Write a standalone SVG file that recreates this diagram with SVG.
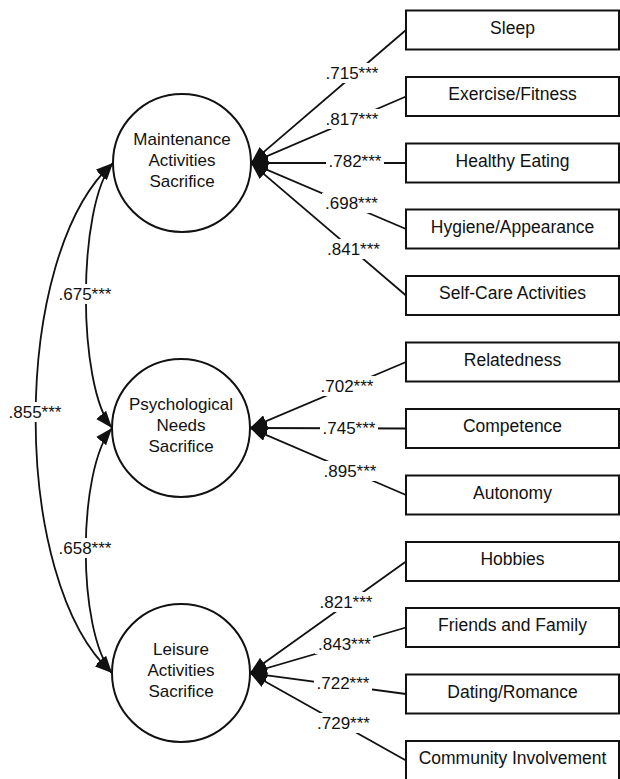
<svg xmlns="http://www.w3.org/2000/svg" width="620" height="779" viewBox="0 0 620 779">
  <style>
    text { font-family: "Liberation Sans", Arial, sans-serif; fill: #111; }
    .latent { fill: #fff; stroke: #111; stroke-width: 2; }
    .obs { fill: #fff; stroke: #111; stroke-width: 2; }
    .ltxt { font-size: 17px; text-anchor: middle; }
    .btxt { font-size: 17.5px; text-anchor: middle; }
    .lbl { font-size: 17px; text-anchor: middle; }
    .path { fill: none; stroke: #111; stroke-width: 1.8; marker-end: url(#arrow); }
    .cov { fill: none; stroke: #111; stroke-width: 1.8; marker-start: url(#arrow); marker-end: url(#arrow); }
    .knock { fill: #fff; stroke: none; }
  </style>
  <defs>
    <marker id="arrow" viewBox="0 0 17 13" refX="17" refY="6.5" markerWidth="17" markerHeight="13" markerUnits="userSpaceOnUse" orient="auto-start-reverse">
      <path d="M0,0 L17,6.5 L0,13 z" fill="#111"/>
    </marker>
  </defs>

  <!-- connectors: loadings and factor covariances -->
  <g id="connectors">
    <!-- Maintenance loadings -->
    <line class="path" x1="406" y1="30" x2="251" y2="163"/>
    <line class="path" x1="406" y1="96.5" x2="251" y2="163"/>
    <line class="path" x1="406" y1="163" x2="251" y2="163"/>
    <line class="path" x1="406" y1="229" x2="251" y2="163"/>
    <line class="path" x1="406" y1="295.5" x2="251" y2="163"/>
    <!-- Psychological loadings -->
    <line class="path" x1="406" y1="362" x2="250" y2="428"/>
    <line class="path" x1="406" y1="428.5" x2="250" y2="428"/>
    <line class="path" x1="406" y1="495" x2="250" y2="428"/>
    <!-- Leisure loadings -->
    <line class="path" x1="406" y1="561.5" x2="250" y2="673"/>
    <line class="path" x1="406" y1="627.5" x2="250" y2="673"/>
    <line class="path" x1="406" y1="694" x2="250" y2="673"/>
    <line class="path" x1="406" y1="760.5" x2="250" y2="673"/>
    <!-- covariances -->
    <path class="cov" d="M113,163 C77,205 77,386 112,428"/>
    <path class="cov" d="M112,428 C77,470 77,631 112,673"/>
    <path class="cov" d="M113,163 C10,255 10,581 112,673"/>

    <!-- coefficient labels -->
    <g id="coef-labels">
      <rect class="knock" x="323" y="63" width="58" height="20"/><text class="lbl" x="352" y="79">.715***</text>
      <rect class="knock" x="323" y="109" width="58" height="20"/><text class="lbl" x="352" y="125">.817***</text>
      <rect class="knock" x="326" y="151" width="58" height="20"/><text class="lbl" x="355" y="167">.782***</text>
      <rect class="knock" x="322" y="193" width="58" height="20"/><text class="lbl" x="351.5" y="209">.698***</text>
      <rect class="knock" x="324" y="239" width="58" height="20"/><text class="lbl" x="353.5" y="255">.841***</text>

      <rect class="knock" x="318" y="376" width="58" height="20"/><text class="lbl" x="347" y="392">.702***</text>
      <rect class="knock" x="320" y="417" width="58" height="20"/><text class="lbl" x="349" y="433.5">.745***</text>
      <rect class="knock" x="321" y="461" width="58" height="20"/><text class="lbl" x="350" y="477">.895***</text>

      <rect class="knock" x="317" y="592" width="58" height="20"/><text class="lbl" x="346" y="608">.821***</text>
      <rect class="knock" x="315" y="634" width="58" height="20"/><text class="lbl" x="344.5" y="650">.843***</text>
      <rect class="knock" x="314" y="673" width="58" height="20"/><text class="lbl" x="343" y="689">.722***</text>
      <rect class="knock" x="314" y="713" width="58" height="20"/><text class="lbl" x="343.5" y="729">.729***</text>

      <rect class="knock" x="56" y="284" width="60" height="20"/><text class="lbl" x="85" y="300">.675***</text>
      <rect class="knock" x="5" y="402" width="60" height="20"/><text class="lbl" x="35" y="418">.855***</text>
      <rect class="knock" x="56" y="538" width="60" height="20"/><text class="lbl" x="85" y="554">.658***</text>
    </g>
  </g>

  <!-- latent factors -->
  <g id="maintenance">
    <circle class="latent" cx="182" cy="163" r="69"/>
    <text class="ltxt" x="182" y="145">Maintenance</text>
    <text class="ltxt" x="182" y="166">Activities</text>
    <text class="ltxt" x="182" y="187">Sacrifice</text>
  </g>
  <g id="psychological">
    <circle class="latent" cx="181" cy="428" r="69"/>
    <text class="ltxt" x="181" y="410">Psychological</text>
    <text class="ltxt" x="181" y="431">Needs</text>
    <text class="ltxt" x="181" y="452">Sacrifice</text>
  </g>
  <g id="leisure">
    <circle class="latent" cx="181" cy="673" r="69"/>
    <text class="ltxt" x="181" y="655">Leisure</text>
    <text class="ltxt" x="181" y="676">Activities</text>
    <text class="ltxt" x="181" y="697">Sacrifice</text>
  </g>

  <!-- observed indicators -->
  <g id="sleep"><rect class="obs" x="406" y="10.5" width="213" height="39"/><text class="btxt" x="512.5" y="33.5">Sleep</text></g>
  <g id="exercise"><rect class="obs" x="406" y="77" width="213" height="39"/><text class="btxt" x="512.5" y="100">Exercise/Fitness</text></g>
  <g id="healthy-eating"><rect class="obs" x="406" y="143.5" width="213" height="39"/><text class="btxt" x="512.5" y="166.5">Healthy Eating</text></g>
  <g id="hygiene"><rect class="obs" x="406" y="209.5" width="213" height="39"/><text class="btxt" x="512.5" y="232.5">Hygiene/Appearance</text></g>
  <g id="self-care"><rect class="obs" x="406" y="276" width="213" height="39"/><text class="btxt" x="512.5" y="299">Self-Care Activities</text></g>
  <g id="relatedness"><rect class="obs" x="406" y="342.5" width="213" height="39"/><text class="btxt" x="512.5" y="365.5">Relatedness</text></g>
  <g id="competence"><rect class="obs" x="406" y="409" width="213" height="39"/><text class="btxt" x="512.5" y="432">Competence</text></g>
  <g id="autonomy"><rect class="obs" x="406" y="475.5" width="213" height="39"/><text class="btxt" x="512.5" y="498.5">Autonomy</text></g>
  <g id="hobbies"><rect class="obs" x="406" y="542" width="213" height="39"/><text class="btxt" x="512.5" y="565">Hobbies</text></g>
  <g id="friends-family"><rect class="obs" x="406" y="608" width="213" height="39"/><text class="btxt" x="512.5" y="631">Friends and Family</text></g>
  <g id="dating"><rect class="obs" x="406" y="674.5" width="213" height="39"/><text class="btxt" x="512.5" y="697.5">Dating/Romance</text></g>
  <g id="community"><rect class="obs" x="406" y="741" width="213" height="39"/><text class="btxt" x="512.5" y="764">Community Involvement</text></g>
</svg>
